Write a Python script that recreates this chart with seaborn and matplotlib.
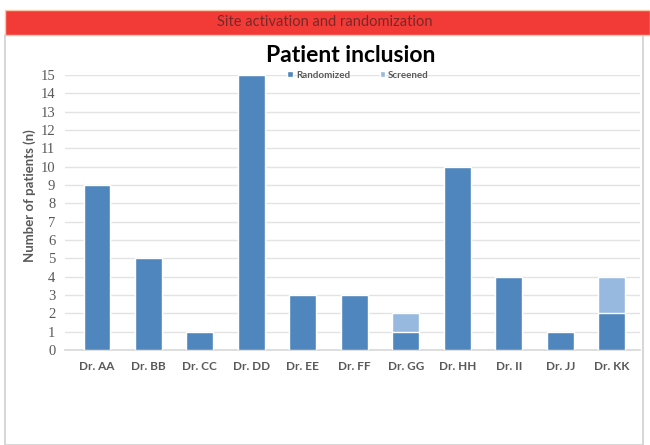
import matplotlib
matplotlib.use("Agg")
import matplotlib.pyplot as plt
from matplotlib.patches import Rectangle
import seaborn as sns
import pandas as pd

# Patient counts per investigator site
sites = ["Dr. AA", "Dr. BB", "Dr. CC", "Dr. DD", "Dr. EE", "Dr. FF",
         "Dr. GG", "Dr. HH", "Dr. II", "Dr. JJ", "Dr. KK"]
randomized = [9, 5, 1, 15, 3, 3, 1, 10, 4, 1, 2]
screened = [0, 0, 0, 0, 0, 0, 1, 0, 0, 0, 2]
y_ticks = list(range(0, 16))

df = pd.DataFrame({"site": sites, "randomized": randomized, "screened": screened})
df["total"] = df["randomized"] + df["screened"]

sns.set_theme(style="white")
plt.rcParams["font.family"] = ["Lato", "DejaVu Sans"]

dark = "#4f86bd"
light = "#98b9df"
grey_txt = "#595959"

fig = plt.figure(figsize=(6.5, 4.45), dpi=100)
fig.patch.set_facecolor("white")

# Page frame and red header banner
fig.add_artist(Rectangle((5 / 650, 0), 638 / 650, 1 - 35 / 445, transform=fig.transFigure,
                         facecolor="white", edgecolor="#d0d0d0", linewidth=1.2, zorder=0))
fig.add_artist(Rectangle((5 / 650, 1 - 35 / 445), 645 / 650, 25 / 445, transform=fig.transFigure,
                         facecolor="#f23b37", edgecolor="#f5c9a8", linewidth=1.0, zorder=1))
fig.text(0.5, 1 - 22 / 445, "Site activation and randomization", ha="center", va="center",
         fontsize=10.5, color="#7a2828", family=["Lato", "DejaVu Sans"])

ax = fig.add_axes([65 / 650, 1 - 350 / 445, 575 / 650, 275 / 445])
ax.set_facecolor("none")

# Stacked bars: total (screened on top) drawn first, randomized over it
sns.barplot(data=df, x="site", y="total", color=light, saturation=1, width=0.52,
            ax=ax, label="Screened", zorder=2)
sns.barplot(data=df, x="site", y="randomized", color=dark, saturation=1, width=0.52,
            ax=ax, label="Randomized", zorder=3)

ax.set_ylim(0, 15)
ax.set_yticks(y_ticks)
ax.set_yticklabels([str(v) for v in y_ticks], family=["Liberation Serif", "DejaVu Serif"])
ax.set_xlim(-0.62, len(sites) - 0.45)
ax.yaxis.grid(True, color="#e3e3e3", linewidth=1.0)
ax.set_axisbelow(True)
for s in ["top", "right", "left"]:
    ax.spines[s].set_visible(False)
ax.spines["bottom"].set_color("#d9d9d9")
ax.tick_params(axis="y", length=0, labelsize=10.5, labelcolor=grey_txt, pad=7)
ax.tick_params(axis="x", length=0, labelsize=8.5, labelcolor=grey_txt, pad=8)
for t in ax.get_xticklabels():
    t.set_fontweight("bold")
ax.set_xlabel("")
ax.set_ylabel("Number of patients (n)", fontsize=9.5, fontweight="bold", color=grey_txt)
ax.yaxis.set_label_coords(-0.05, 0.56)

fig.text(0.54, 1 - 55 / 445, "Patient inclusion", ha="center", va="center",
         fontsize=16.5, fontweight="bold", color="black")

handles, labels = ax.get_legend_handles_labels()
order = [labels.index("Randomized"), labels.index("Screened")]
leg = ax.legend([handles[i] for i in order], [labels[i] for i in order],
                loc="center", bbox_to_anchor=(0.51, 1.0), ncol=2, frameon=False,
                fontsize=7, handlelength=0.6, handleheight=0.6, columnspacing=3,
                handletextpad=0.3, borderaxespad=0)
for t in leg.get_texts():
    t.set_color(grey_txt)
    t.set_fontweight("bold")

fig.savefig("out.png", dpi=100)
